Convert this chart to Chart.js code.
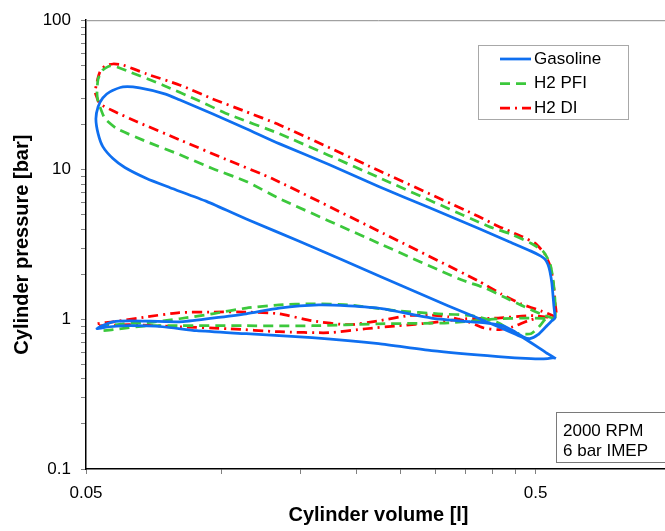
<!DOCTYPE html>
<html>
<head>
<meta charset="utf-8">
<script src="https://cdn.jsdelivr.net/npm/chart.js@4.4.1/dist/chart.umd.min.js"></script>
<style>
  html, body { margin: 0; padding: 0; background: #fff; overflow: hidden; }
  #wrap { position: relative; width: 680px; height: 531px; }
</style>
</head>
<body>
<div id="wrap"><canvas id="pvChart" width="680" height="531"></canvas></div>
<script>
// cylinder volume [l] / pressure [bar], one closed loop per fuel
// order: compression -> combustion -> expansion, exhaust, intake
const gasolineVol = [
  0.5545, 0.527, 0.473, 0.413, 0.320, 0.227, 0.149, 0.115, 0.0927, 0.0767, 0.0682, 0.0610, 0.0574, 0.0545, 0.0532, 0.0526,
  0.0532, 0.0545, 0.0565, 0.0604, 0.0658, 0.0748, 0.0807, 0.0955, 0.1136, 0.1344, 0.1735, 0.2238, 0.2888, 0.3726, 0.4342,
  0.4881, 0.5137, 0.5243, 0.5323, 0.5378, 0.5433, 0.5461, 0.5489, 0.5517,
  0.5433, 0.527, 0.5059, 0.4856, 0.4686, 0.4454, 0.4232, 0.3861, 0.3365, 0.2932, 0.2273, 0.1921, 0.1648, 0.1344, 0.1136,
  0.0955, 0.0807, 0.0626, 0.0574, 0.0537, 0.0529,
  0.0565, 0.0626, 0.0740, 0.0881, 0.1136, 0.1591, 0.2238, 0.2932, 0.4126, 0.4881, 0.5323, 0.5489, 0.5545
];
const gasolinePress = [
  0.547, 0.600, 0.743, 0.893, 1.23, 1.92, 3.33, 4.62, 6.15, 7.62, 8.75, 10.36, 11.89, 14.29, 17.44, 21.95,
  26.4, 30.3, 33.2, 35.8, 35.3, 32.2, 29.35, 23.69, 18.83, 14.96, 10.85, 7.74, 5.61, 4.07, 3.33,
  2.86, 2.65, 2.53, 2.34, 2.10, 1.75, 1.48, 1.23, 1.02,
  0.979, 0.893, 0.790, 0.743, 0.766, 0.840, 0.907, 0.949, 0.979, 1.02, 1.18, 1.23, 1.25, 1.19, 1.09,
  1.02, 0.964, 0.979, 0.964, 0.893, 0.866,
  0.893, 0.907, 0.893, 0.840, 0.802, 0.754, 0.688, 0.618, 0.564, 0.547, 0.547, 0.555, 0.547
];

const pfiVol = [
  0.5517, 0.5243, 0.4734, 0.4276, 0.3861, 0.3417, 0.2238, 0.1344, 0.1136, 0.0955, 0.0807, 0.0682, 0.0586, 0.0551, 0.0537,
  0.0532, 0.0529, 0.0532, 0.0545, 0.0565, 0.0586, 0.0626, 0.0740, 0.0881, 0.1042, 0.1344, 0.2238, 0.3921, 0.4409, 0.4881,
  0.5190, 0.5378, 0.5461, 0.5517, 0.5517,
  0.5270, 0.5111, 0.4881, 0.4499, 0.4126, 0.3596, 0.3039, 0.2478, 0.1921, 0.1591, 0.1344, 0.1136, 0.0955, 0.0807, 0.0682,
  0.0604, 0.0537,
  0.0537, 0.0574, 0.0682, 0.0807, 0.1136, 0.1591, 0.2238, 0.3198, 0.4126, 0.4881, 0.5517
];
const pfiPress = [
  1.01, 1.06, 1.21, 1.40, 1.62, 1.84, 3.23, 6.44, 8.36, 10.20, 12.64, 15.43, 18.83, 21.95, 26.37,
  28.47, 32.19, 40.49, 46.49, 49.42, 48.68, 45.08, 36.93, 29.35, 23.33, 17.44, 8.89, 4.20, 3.71, 3.23,
  2.86, 2.38, 1.89, 1.39, 1.02,
  1.01, 0.907, 0.802, 0.815, 0.949, 1.06, 1.09, 1.14, 1.25, 1.27, 1.25, 1.19, 1.09, 1.01, 0.949,
  0.935, 0.879,
  0.840, 0.853, 0.907, 0.907, 0.907, 0.907, 0.935, 0.949, 1.01, 1.02, 1.01
];

const diVol = [
  0.5545, 0.5461, 0.5137, 0.4639, 0.4190, 0.3726, 0.2238, 0.1310, 0.1026, 0.0816, 0.0649, 0.0574, 0.0537, 0.0529, 0.0524,
  0.0529, 0.0537, 0.0551, 0.0574, 0.0604, 0.0682, 0.0807, 0.0955, 0.1136, 0.1344, 0.2238, 0.3726, 0.4126, 0.4639, 0.4983,
  0.5243, 0.5405, 0.5489, 0.5517, 0.5545,
  0.5190, 0.4807, 0.4454, 0.4126, 0.3822, 0.3541, 0.3198, 0.2888, 0.2608, 0.2238, 0.1921, 0.1591, 0.1344, 0.1136, 0.0955,
  0.0807, 0.0682, 0.0574, 0.0529,
  0.0529, 0.0626, 0.0807, 0.1042, 0.1344, 0.1735, 0.2095, 0.2478, 0.2932, 0.3487, 0.4126, 0.4881, 0.5545
];
const diPress = [
  1.02, 1.06, 1.14, 1.27, 1.48, 1.81, 3.89, 8.62, 11.71, 15.66, 20.96, 24.80, 27.61, 30.27, 33.19,
  38.67, 45.08, 49.42, 50.96, 50.19, 43.72, 36.93, 29.81, 24.43, 20.02, 9.89, 4.89, 4.20, 3.60, 3.23,
  2.73, 2.20, 1.62, 1.33, 1.04,
  1.04, 0.979, 0.893, 0.853, 0.879, 0.964, 1.04, 1.07, 1.06, 0.979, 0.921, 0.979, 1.09, 1.12, 1.12,
  1.11, 1.04, 0.964, 0.935,
  0.907, 0.921, 0.893, 0.866, 0.827, 0.815, 0.866, 0.907, 0.949, 1.01, 1.02, 1.06, 1.02
];

const volTicks = [0.05, 0.1, 0.15, 0.2, 0.25, 0.3, 0.35, 0.4, 0.45, 0.5, 1];
const volLabels = [0.05, 0.5];
const pressTicks = [0.1, 0.2, 0.3, 0.4, 0.5, 0.6, 0.7, 0.8, 0.9, 1, 2, 3, 4, 5, 6, 7, 8, 9,
  10, 20, 30, 40, 50, 60, 70, 80, 90, 100];
const pressLabels = [0.1, 1, 10, 100];
const noteLines = ["2000 RPM", "6 bar IMEP"];

const fontFam = '"Liberation Sans", Arial, sans-serif';

function toPoints(vol, press) {
  return vol.map((v, i) => ({ x: v, y: press[i] }));
}

const boxPlugin = {
  id: "boxLegend",
  afterDraw(chart) {
    const ctx = chart.ctx;
    const area = chart.chartArea;
    ctx.save();
    // top frame line
    ctx.strokeStyle = "#8c8c8c";
    ctx.lineWidth = 1;
    ctx.beginPath();
    ctx.moveTo(area.left, area.top + 0.5);
    ctx.lineTo(area.right, area.top + 0.5);
    ctx.stroke();

    // legend
    ctx.strokeStyle = "#a8a8a8";
    ctx.strokeRect(478.5, 45.5, 150, 74);
    ctx.font = "17px " + fontFam;
    ctx.textBaseline = "middle";
    chart.data.datasets.forEach((ds, i) => {
      const y = 59 + i * 24.5;
      ctx.strokeStyle = ds.borderColor;
      ctx.lineWidth = ds.borderWidth;
      ctx.setLineDash(ds.borderDash || []);
      ctx.beginPath();
      ctx.moveTo(500, y);
      ctx.lineTo(531, y);
      ctx.stroke();
      ctx.setLineDash([]);
      ctx.fillStyle = "#000";
      ctx.fillText(ds.label, 534, y);
    });

    // note box
    ctx.strokeStyle = "#7a7a7a";
    ctx.lineWidth = 1;
    ctx.strokeRect(556.5, 412.5, 140, 50);
    ctx.fillStyle = "#000";
    noteLines.forEach((t, i) => {
      ctx.fillText(t, 563, 431 + i * 20);
    });
    ctx.restore();
  },
};

new Chart(document.getElementById("pvChart"), {
  type: "scatter",
  data: {
    datasets: [
      {
        label: "Gasoline",
        data: toPoints(gasolineVol, gasolinePress),
        borderColor: "#0f6ff0",
        borderWidth: 2.75,
        showLine: true,
        pointRadius: 0,
        tension: 0.2,
      },
      {
        label: "H2 PFI",
        data: toPoints(pfiVol, pfiPress),
        borderColor: "#3cc83c",
        borderWidth: 2.75,
        borderDash: [10, 6],
        showLine: true,
        pointRadius: 0,
        tension: 0.2,
      },
      {
        label: "H2 DI",
        data: toPoints(diVol, diPress),
        borderColor: "#ff0000",
        borderWidth: 2.75,
        borderDash: [10, 5, 2, 5],
        showLine: true,
        pointRadius: 0,
        tension: 0.2,
      },
    ],
  },
  options: {
    responsive: false,
    animation: false,
    layout: { padding: { top: 18, right: 6, left: 0, bottom: 0 } },
    plugins: { legend: { display: false }, tooltip: { enabled: false } },
    scales: {
      x: {
        type: "logarithmic",
        min: 0.05,
        max: 1,
        afterBuildTicks: (s) => { s.ticks = volTicks.map((v) => ({ value: v })); },
        afterFit: (s) => { s.height = 62; },
        ticks: {
          autoSkip: false,
          maxRotation: 0,
          padding: 9,
          color: "#000",
          font: { size: 17, family: fontFam },
          callback: (v) => (volLabels.includes(v) ? String(v) : ""),
        },
        grid: { drawOnChartArea: false, drawTicks: true, tickLength: 5, color: "#808080" },
        border: { color: "#000", width: 1.5 },
        title: {
          display: true,
          text: "Cylinder volume [l]",
          color: "#000",
          font: { size: 20, weight: "bold", family: fontFam, lineHeight: 1.2 },
          padding: { top: 0, bottom: 4 },
        },
      },
      y: {
        type: "logarithmic",
        min: 0.1,
        max: 100,
        afterBuildTicks: (s) => { s.ticks = pressTicks.map((v) => ({ value: v })); },
        afterFit: (s) => { s.width = 86; },
        ticks: {
          autoSkip: false,
          padding: 10,
          color: "#000",
          font: { size: 17, family: fontFam },
          callback: (v) => (pressLabels.includes(v) ? String(v) : ""),
        },
        grid: { drawOnChartArea: false, drawTicks: true, tickLength: 5, color: "#808080" },
        border: { color: "#000", width: 1.5 },
        title: {
          display: true,
          text: "Cylinder pressure [bar]",
          color: "#000",
          font: { size: 20, weight: "bold", family: fontFam, lineHeight: 1.2 },
          padding: { top: 10, bottom: 0 },
        },
      },
    },
  },
  plugins: [boxPlugin],
});
</script>
</body>
</html>
